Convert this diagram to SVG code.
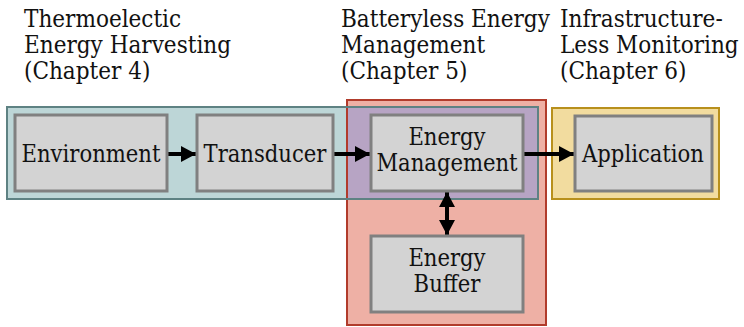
<svg xmlns="http://www.w3.org/2000/svg" width="744" height="327" viewBox="0 0 744 327">
<style>
.hdr{font-size:24px;fill:#111}
.lbl{font-size:23.5px;fill:#111;text-anchor:middle}
.node{fill:#d3d3d3;stroke:#808080;stroke-width:3}
.conn{stroke:#000;stroke-width:4;fill:none}
</style>
<defs>
<marker id="ah" markerUnits="userSpaceOnUse" markerWidth="16" markerHeight="16" refX="15" refY="8" orient="auto-start-reverse">
<path d="M0,0 L15,8 L0,16 Z" fill="#000"/>
</marker>
</defs>
<rect width="744" height="327" fill="#fff"/>
<g id="headers" font-family="DejaVu Serif Condensed, DejaVu Serif, serif" font-stretch="condensed">
<text class="hdr" x="24" y="27">Thermoelectic</text>
<text class="hdr" x="24" y="53">Energy Harvesting</text>
<text class="hdr" x="24" y="79">(Chapter 4)</text>
<text class="hdr" x="341" y="27">Batteryless Energy</text>
<text class="hdr" x="341" y="53">Management</text>
<text class="hdr" x="341" y="79">(Chapter 5)</text>
<text class="hdr" x="560" y="27">Infrastructure-</text>
<text class="hdr" x="560" y="53">Less Monitoring</text>
<text class="hdr" x="560" y="79">(Chapter 6)</text>
</g>
<g id="regions">
<rect x="347" y="100" width="199" height="225" fill="#eeb0a5"/>
<rect x="7" y="107" width="531" height="92" fill="#bdd6d7"/>
<rect x="347" y="107" width="191" height="92" fill="#b7a4c4"/>
<rect x="347" y="100" width="199" height="225" fill="none" stroke="#b13c2c" stroke-width="2"/>
<rect x="7" y="107" width="531" height="92" fill="none" stroke="#5e8283" stroke-width="2"/>
<rect x="552" y="108" width="167" height="91" fill="#f2dc9f" stroke="#b8901c" stroke-width="2"/>
</g>
<g id="connectors">
<line class="conn" x1="167" y1="154" x2="196" y2="154" marker-end="url(#ah)"/>
<line class="conn" x1="333" y1="154" x2="370" y2="154" marker-end="url(#ah)"/>
<line class="conn" x1="523" y1="154" x2="574" y2="154" marker-end="url(#ah)"/>
<line class="conn" x1="447" y1="192" x2="447" y2="235" marker-start="url(#ah)" marker-end="url(#ah)"/>
</g>
<g id="nodes" font-family="DejaVu Serif Condensed, DejaVu Serif, serif" font-stretch="condensed">
<g id="environment">
<rect class="node" x="15" y="115" width="152" height="76"/>
<text class="lbl" x="91" y="162">Environment</text>
</g>
<g id="transducer">
<rect class="node" x="197" y="115" width="136" height="76"/>
<text class="lbl" x="265" y="162">Transducer</text>
</g>
<g id="energy-management">
<rect class="node" x="371" y="115" width="152" height="76"/>
<text class="lbl" x="447" y="145">Energy</text>
<text class="lbl" x="447" y="171">Management</text>
</g>
<g id="application">
<rect class="node" x="575" y="116" width="137" height="75"/>
<text class="lbl" x="643" y="162">Application</text>
</g>
<g id="energy-buffer">
<rect class="node" x="371" y="236" width="152" height="76"/>
<text class="lbl" x="447" y="266">Energy</text>
<text class="lbl" x="447" y="292">Buffer</text>
</g>
</g>
</svg>
